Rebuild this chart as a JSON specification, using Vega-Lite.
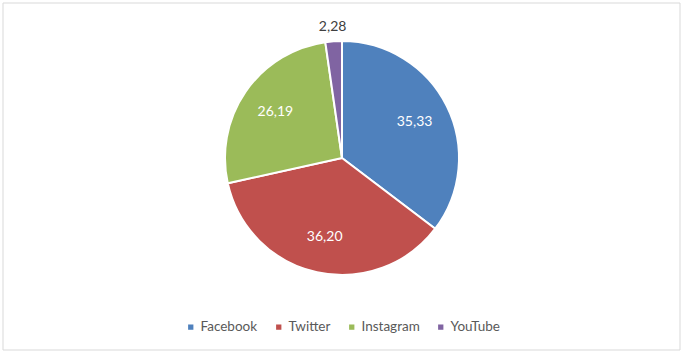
{
  "$schema": "https://vega.github.io/schema/vega-lite/v6.json",
  "width": 677,
  "height": 347,
  "autosize": "none",
  "padding": {"left": 3, "top": 3, "right": 18, "bottom": 10},
  "background": "white",
  "data": {
    "values": [
      {"network": "Facebook", "value": 35.33, "order": 1},
      {"network": "Twitter", "value": 36.20, "order": 2},
      {"network": "Instagram", "value": 26.19, "order": 3},
      {"network": "YouTube", "value": 2.28, "order": 4}
    ]
  },
  "layer": [
    {
      "data": {"values": [{"frame": 1}]},
      "mark": {"type": "rect", "fill": null, "fillOpacity": 0, "stroke": "#d9d9d9", "strokeWidth": 1},
      "encoding": {
        "x": {"value": 0},
        "x2": {"value": "width"},
        "y": {"value": 0},
        "y2": {"value": "height"}
      }
    },
    {
      "mark": {"type": "arc", "outerRadius": 117, "x": 339, "y": 155, "stroke": "white", "strokeWidth": 2},
      "encoding": {
        "theta": {"field": "value", "type": "quantitative", "stack": true},
        "order": {"field": "order", "type": "quantitative"},
        "color": {
          "field": "network",
          "type": "nominal",
          "sort": ["Facebook", "Twitter", "Instagram", "YouTube"],
          "scale": {
            "domain": ["Facebook", "Twitter", "Instagram", "YouTube"],
            "range": ["#4F81BD", "#C0504D", "#9BBB59", "#8064A2"]
          },
          "legend": {
            "orient": "none",
            "direction": "horizontal",
            "legendX": 181,
            "legendY": 317,
            "title": null,
            "symbolType": "square",
            "symbolSize": 28,
            "symbolStrokeWidth": 0,
            "labelFont": "Lato",
            "labelFontSize": 13.5,
            "labelColor": "#595959",
            "labelOffset": 3,
            "columnPadding": 14
          }
        }
      }
    },
    {
      "mark": {"type": "text", "radius": 81, "x": 339, "y": 155, "font": "Lato", "fontSize": 14, "fill": "white"},
      "encoding": {
        "theta": {"field": "value", "type": "quantitative", "stack": true},
        "order": {"field": "order", "type": "quantitative"},
        "text": {"field": "value", "type": "quantitative", "format": ".2f"},
        "color": {"value": "white"},
        "opacity": {"condition": {"test": "datum.value < 5", "value": 0}, "value": 1}
      }
    },
    {
      "mark": {"type": "text", "radius": 131, "x": 339, "y": 155, "font": "Lato", "fontSize": 14},
      "encoding": {
        "theta": {"field": "value", "type": "quantitative", "stack": true},
        "order": {"field": "order", "type": "quantitative"},
        "text": {"field": "value", "type": "quantitative", "format": ".2f"},
        "color": {"value": "#404040"},
        "opacity": {"condition": {"test": "datum.value < 5", "value": 1}, "value": 0}
      }
    }
  ],
  "config": {
    "view": {"stroke": null},
    "locale": {
      "number": {"decimal": ",", "thousands": ".", "grouping": [3], "currency": ["", " €"]}
    }
  }
}
